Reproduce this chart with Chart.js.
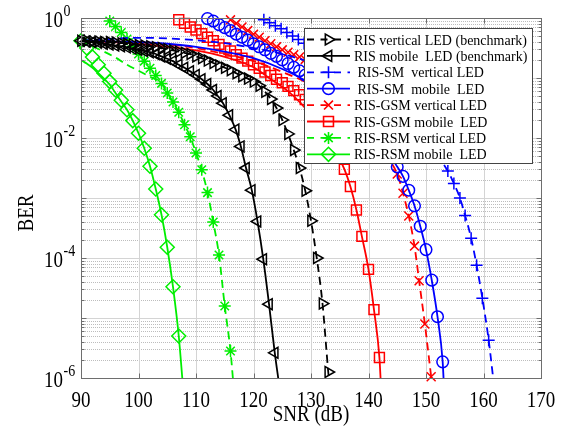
<!DOCTYPE html>
<html><head><meta charset="utf-8">
<script src="https://cdn.jsdelivr.net/npm/chart.js@4.4.0/dist/chart.umd.min.js"></script>
<style>html,body{margin:0;padding:0;background:#fff;}#c{display:block;}</style>
</head><body>
<canvas id="c" width="567" height="428"></canvas>
<script>
// ---------- axis ticks ----------
const xTicks = [90, 100, 110, 120, 130, 140, 150, 160, 170];
const yTicks = [1, 1e-2, 1e-4, 1e-6];
const yTickExp = ['0', '-2', '-4', '-6'];
const legendLabels = ['RIS vertical LED (benchmark)', 'RIS mobile  LED (benchmark)', ' RIS-SM  vertical LED', ' RIS-SM  mobile  LED',
  'RIS-GSM vertical LED', 'RIS-GSM mobile  LED', 'RIS-RSM vertical LED', 'RIS-RSM mobile  LED'];

// ---------- RIS vertical LED (benchmark) ----------
const benchVertSnr = [90,91,92,93,94,95,96,97,98,99,100,101,102,103,104,105,106,107,108,109,110,111,112,113,114,115,116,117,118,119,120,121,122,123,124,125,126,127,128,129,130,131,132,133];
const benchVertBer = [0.417,0.417,0.407,0.407,0.398,0.398,0.389,0.380,0.372,0.363,0.355,0.347,0.339,0.324,0.316,0.302,0.288,0.275,0.263,0.251,0.229,0.214,0.195,0.178,0.162,0.148,0.135,0.120,0.107,0.0977,0.0871,0.0741,0.0589,0.0447,0.0316,0.0200,0.0117,0.00631,0.00316,0.00132,4.17e-4,1.0e-4,1.74e-5,1.26e-6];
const benchVertEndSnr = [133.2];
const benchVertEndBer = [7.94e-7];

// ---------- RIS mobile LED (benchmark) ----------
const benchMobSnr = [90,91,92,93,94,95,96,97,98,99,100,101,102,103,104,105,106,107,108,109,110,111,112,113,113.8,114.7,115.8,116.9,117.8,118.7,119.7,120.7,121.7,122.7,123.7];
const benchMobBer = [0.417,0.407,0.398,0.389,0.372,0.363,0.347,0.339,0.324,0.309,0.295,0.282,0.269,0.251,0.229,0.209,0.191,0.166,0.148,0.129,0.112,0.0955,0.0794,0.0631,0.0501,0.0380,0.0240,0.0138,0.00724,0.00316,0.00135,4.07e-4,9.55e-5,1.70e-5,2.63e-6];
const benchMobEndSnr = [124.4];
const benchMobEndBer = [8.5e-7];

// ---------- RIS-SM vertical LED ----------
const smVertSimSnr = [121.8,122.8,123.8,124.8,125.8,126.8,127.8,128.8,153.8,154.85,155.9,156.8,157.85,158.8,159.8,160.9];
const smVertSimBer = [0.933,0.832,0.741,0.661,0.575,0.501,0.437,0.380,2.82e-3,1.74e-3,1.0e-3,5.13e-4,2.14e-4,7.59e-5,2.14e-5,4.27e-6];
const smVertThSnr = [90,95,100,105,110,115,120,125,130,140,148,153.8,154.85,155.9,156.8,157.85,158.8,159.8,160.9,161.8];
const smVertThBer = [0.417,0.447,0.468,0.457,0.427,0.380,0.316,0.251,0.178,0.0562,0.0141,2.82e-3,1.74e-3,1.0e-3,5.13e-4,2.14e-4,7.59e-5,2.14e-5,4.27e-6,7.94e-7];

// ---------- RIS-SM mobile LED ----------
const smMobSimSnr = [112,113,114,115,116,117,118,119,120,121,122,123,124,125,126,127,128,129,145,146,147,148,149,150,151,152,152.9];
const smMobSimBer = [0.977,0.891,0.776,0.692,0.617,0.537,0.479,0.427,0.372,0.331,0.295,0.257,0.229,0.200,0.174,0.151,0.132,0.112,3.31e-3,2.29e-3,1.35e-3,7.41e-4,3.39e-4,1.38e-4,4.27e-5,1.05e-5,1.86e-6];
const smMobThSnr = [90,95,100,105,110,115,120,125,130,135,140,144,145,146,147,148,149,150,151,152,152.9,153.1];
const smMobThBer = [0.417,0.407,0.398,0.372,0.331,0.275,0.214,0.141,0.0794,0.0355,0.0141,4.68e-3,3.31e-3,2.29e-3,1.35e-3,7.41e-4,3.39e-4,1.38e-4,4.27e-5,1.05e-5,1.86e-6,7.94e-7];

// ---------- RIS-GSM vertical LED ----------
const gsmVertSimSnr = [116,117,118,119,120,121,122,123,124,125,126,127,128,129,145,146,147,148,148.8,149.8,150.9];
const gsmVertSimBer = [0.933,0.813,0.708,0.617,0.537,0.479,0.417,0.372,0.331,0.295,0.269,0.245,0.224,0.204,2.51e-3,1.20e-3,5.01e-4,1.58e-4,4.17e-5,7.94e-6,1.05e-6];
const gsmVertThSnr = [90,95,100,105,110,115,120,125,130,135,140,143.5,145,146,147,148,148.8,149.8,150.9,151.05];
const gsmVertThBer = [0.417,0.407,0.398,0.363,0.316,0.251,0.191,0.126,0.0759,0.0316,0.0112,4.47e-3,2.51e-3,1.20e-3,5.01e-4,1.58e-4,4.17e-5,7.94e-6,1.05e-6,7.94e-7];

// ---------- RIS-GSM mobile LED ----------
const gsmMobSimSnr = [107,108,109,110,111,112,113,114,115,116,117,118,119,120,121,122,123,124,125,126,127,128,129,135.8,136.85,137.9,138.85,140,140.95,141.9];
const gsmMobSimBer = [0.933,0.813,0.708,0.631,0.550,0.479,0.417,0.363,0.316,0.282,0.245,0.214,0.191,0.166,0.145,0.126,0.110,0.0955,0.0832,0.0724,0.0617,0.0525,0.0437,3.02e-3,1.55e-3,6.31e-4,2.29e-4,6.46e-5,1.38e-5,2.19e-6];
const gsmMobThSnr = [90,95,100,105,110,115,120,123,126,128.5,131,134,135.8,136.85,137.9,138.85,140,140.95,141.9,142.15];
const gsmMobThBer = [0.417,0.398,0.372,0.331,0.288,0.224,0.151,0.0955,0.0603,0.0355,0.0178,6.61e-3,3.02e-3,1.55e-3,6.31e-4,2.29e-4,6.46e-5,1.38e-5,2.19e-6,7.94e-7];

// ---------- RIS-RSM vertical LED ----------
const rsmVertSimSnr = [95,96,97,98,99,100,101,102,103,104,105,106,107,108,109,110,111,112,113,114,115,116];
const rsmVertSimBer = [0.891,0.724,0.575,0.447,0.339,0.251,0.191,0.145,0.110,0.0813,0.0562,0.0398,0.0269,0.0166,0.0105,5.62e-3,2.95e-3,1.23e-3,3.98e-4,1.12e-4,1.58e-5,2.82e-6];
const rsmVertThSnr = [90,92,94,96,98,100,102,104,105,106,107,108,109,110,111,112,113,114,115,116,116.5];
const rsmVertThBer = [0.417,0.339,0.275,0.219,0.166,0.132,0.105,0.0813,0.0562,0.0398,0.0269,0.0166,0.0105,5.62e-3,2.95e-3,1.23e-3,3.98e-4,1.12e-4,1.58e-5,2.82e-6,7.94e-7];

// ---------- RIS-RSM mobile LED ----------
const rsmMobSimSnr = [90,91,92,93,94,95,96,97,98,99,100,101,102,103,104,105,106,107];
const rsmMobSimBer = [0.417,0.316,0.224,0.166,0.120,0.0871,0.0631,0.0427,0.0295,0.0195,0.0120,6.76e-3,3.39e-3,1.41e-3,5.25e-4,1.51e-4,3.31e-5,5.01e-6];
const rsmMobThSnr = [90,91,92,93,94,95,96,97,98,99,100,101,102,103,104,105,106,107,107.7];
const rsmMobThBer = [0.200,0.174,0.148,0.120,0.0977,0.0776,0.0562,0.0407,0.0295,0.0195,0.0120,6.76e-3,3.39e-3,1.41e-3,5.25e-4,1.51e-4,3.31e-5,5.01e-6,7.94e-7];

// ---------- build ----------
const BLACK = '#000000', BLUE = '#0000ff', RED = '#ff0000', GREEN = '#00ee00';
const DASH = [8, 5];
const series = [
  {color: BLACK, dash: DASH, style: 'triangle', rot: 90, r: 6.3, sx: benchVertSnr, sy: benchVertBer, lx: benchVertSnr.concat(benchVertEndSnr), ly: benchVertBer.concat(benchVertEndBer)},
  {color: BLACK, dash: [], style: 'triangle', rot: -90, r: 6.3, sx: benchMobSnr, sy: benchMobBer, lx: benchMobSnr.concat(benchMobEndSnr), ly: benchMobBer.concat(benchMobEndBer)},
  {color: BLUE, dash: DASH, style: 'cross', rot: 0, r: 6, sx: smVertSimSnr, sy: smVertSimBer, lx: smVertThSnr, ly: smVertThBer},
  {color: BLUE, dash: [], style: 'circle', rot: 0, r: 5.8, sx: smMobSimSnr, sy: smMobSimBer, lx: smMobThSnr, ly: smMobThBer},
  {color: RED, dash: DASH, style: 'crossRot', rot: 0, r: 6.3, sx: gsmVertSimSnr, sy: gsmVertSimBer, lx: gsmVertThSnr, ly: gsmVertThBer},
  {color: RED, dash: [], style: 'rect', rot: 0, r: 7, sx: gsmMobSimSnr, sy: gsmMobSimBer, lx: gsmMobThSnr, ly: gsmMobThBer},
  {color: GREEN, dash: DASH, style: 'star', rot: 0, r: 6, sx: rsmVertSimSnr, sy: rsmVertSimBer, lx: rsmVertThSnr, ly: rsmVertThBer},
  {color: GREEN, dash: [], style: 'rectRot', rot: 0, r: 7, sx: rsmMobSimSnr, sy: rsmMobSimBer, lx: rsmMobThSnr, ly: rsmMobThBer}
];
const pts = (xs, ys) => xs.map((x, i) => ({x: x, y: ys[i]}));
const datasets = [];
series.forEach(s => {
  datasets.push({data: pts(s.lx, s.ly), showLine: true, borderColor: s.color, borderWidth: 1.8, borderDash: s.dash,
    pointRadius: 0, pointHoverRadius: 0, cubicInterpolationMode: 'monotone', fill: false});
  datasets.push({data: pts(s.sx, s.sy), showLine: false, pointStyle: s.style, pointRotation: s.rot, pointRadius: s.r,
    pointHoverRadius: s.r, pointBorderColor: s.color, pointBackgroundColor: 'rgba(0,0,0,0)', pointBorderWidth: 1.5, clip: false});
});

const SERIF = '"Liberation Serif", "Times New Roman", serif';
function stretchText(ctx, txt, x, y, size, align, sy) {
  ctx.save();
  ctx.translate(x, y);
  ctx.scale(1, sy);
  ctx.font = size + 'px ' + SERIF;
  ctx.textAlign = align;
  ctx.textBaseline = 'alphabetic';
  ctx.fillText(txt, 0, 0);
  ctx.restore();
}

const gridPlugin = {
  id: 'matlabGrid',
  beforeDatasetsDraw(chart) {
    const {ctx, chartArea: a, scales: {x, y}} = chart;
    ctx.save();
    ctx.lineWidth = 1;
    ctx.strokeStyle = '#bdbdbd';
    ctx.setLineDash([1, 1]);
    for (let k = -6; k < 0; k++) {
      for (let m = 2; m <= 9; m++) {
        const py = Math.round(y.getPixelForValue(m * Math.pow(10, k))) + 0.5;
        ctx.beginPath(); ctx.moveTo(a.left, py); ctx.lineTo(a.right, py); ctx.stroke();
      }
    }
    ctx.setLineDash([]);
    ctx.strokeStyle = '#d4d4d4';
    for (let k = -5; k < 0; k++) {
      const py = Math.round(y.getPixelForValue(Math.pow(10, k))) + 0.5;
      ctx.beginPath(); ctx.moveTo(a.left, py); ctx.lineTo(a.right, py); ctx.stroke();
    }
    xTicks.slice(1, -1).forEach(v => {
      const px = Math.round(x.getPixelForValue(v)) + 0.5;
      ctx.beginPath(); ctx.moveTo(px, a.top); ctx.lineTo(px, a.bottom); ctx.stroke();
    });
    ctx.restore();
  },
  afterDatasetsDraw(chart) {
    const {ctx, chartArea: a, scales: {x, y}} = chart;
    ctx.save();
    ctx.strokeStyle = '#6e6e6e';
    ctx.lineWidth = 1;
    const L = Math.round(a.left) + 0.5, R = Math.round(a.right) + 0.5, T = Math.round(a.top) + 0.5, B = Math.round(a.bottom) + 0.5;
    ctx.strokeRect(L, T, R - L, B - T);
    ctx.beginPath();
    xTicks.forEach(v => {
      const px = Math.round(x.getPixelForValue(v)) + 0.5;
      ctx.moveTo(px, B); ctx.lineTo(px, B - 5);
      ctx.moveTo(px, T); ctx.lineTo(px, T + 5);
    });
    for (let k = -6; k <= 0; k++) {
      const py = Math.round(y.getPixelForValue(Math.pow(10, k))) + 0.5;
      ctx.moveTo(L, py); ctx.lineTo(L + 5, py);
      ctx.moveTo(R, py); ctx.lineTo(R - 5, py);
      if (k < 0) {
        for (let m = 2; m <= 9; m++) {
          const pm = Math.round(y.getPixelForValue(m * Math.pow(10, k))) + 0.5;
          ctx.moveTo(L, pm); ctx.lineTo(L + 3, pm);
          ctx.moveTo(R, pm); ctx.lineTo(R - 3, pm);
        }
      }
    }
    ctx.stroke();

    // legend
    const bx = 304.5, by = 28.5, bw = 228, bh = 135;
    ctx.fillStyle = '#ffffff';
    ctx.fillRect(bx, by, bw, bh);
    ctx.strokeStyle = '#444444';
    ctx.strokeRect(bx, by, bw, bh);
    series.forEach((s, i) => {
      const ry = 39.5 + i * 16.4;
      ctx.save();
      ctx.strokeStyle = s.color;
      ctx.lineWidth = 1.8;
      ctx.setLineDash(s.dash.length ? [7, 6.5] : []);
      ctx.beginPath(); ctx.moveTo(307, ry); ctx.lineTo(350, ry); ctx.stroke();
      ctx.setLineDash([]);
      ctx.fillStyle = 'rgba(0,0,0,0)';
      ctx.lineWidth = 1.6;
      Chart.helpers.drawPoint(ctx, {pointStyle: s.style, rotation: s.rot, radius: s.r, borderWidth: 1.6}, 328.5, ry);
      ctx.restore();
      ctx.fillStyle = '#000';
      stretchText(ctx, legendLabels[i], 354, ry + 5, 14, 'left', 1.08);
    });
    ctx.restore();
  },
  afterDraw(chart) {
    const {ctx, scales: {x, y}} = chart;
    ctx.save();
    ctx.fillStyle = '#000';
    const SY = 1.22;
    xTicks.forEach(v => stretchText(ctx, String(v), x.getPixelForValue(v), 407, 19, 'center', SY));
    stretchText(ctx, 'SNR (dB)', 311, 421, 19, 'center', SY);
    yTicks.forEach((v, i) => {
      const py = y.getPixelForValue(v);
      stretchText(ctx, '10', 63, py + 9, 19, 'right', SY);
      stretchText(ctx, yTickExp[i], 63.5, py - 2, 14, 'left', SY);
    });
    ctx.translate(33, 213);
    ctx.rotate(-Math.PI / 2);
    ctx.scale(1, SY);
    ctx.font = '19px ' + SERIF;
    ctx.textAlign = 'center';
    ctx.textBaseline = 'alphabetic';
    ctx.fillText('BER', 0, 0);
    ctx.restore();
  }
};

new Chart(document.getElementById('c'), {
  type: 'scatter',
  data: {datasets: datasets},
  options: {
    responsive: false,
    animation: false,
    events: [],
    layout: {padding: {left: 0, top: 18, right: 26, bottom: 0}},
    scales: {
      x: {type: 'linear', min: 90, max: 170, ticks: {display: false, stepSize: 10}, grid: {display: false}, border: {display: false},
        afterFit: s => { s.height = 50; }},
      y: {type: 'logarithmic', min: 1e-6, max: 1, ticks: {display: false}, grid: {display: false}, border: {display: false},
        afterFit: s => { s.width = 81; }}
    },
    plugins: {legend: {display: false}, tooltip: {enabled: false}}
  },
  plugins: [gridPlugin]
});
</script>
</body></html>
